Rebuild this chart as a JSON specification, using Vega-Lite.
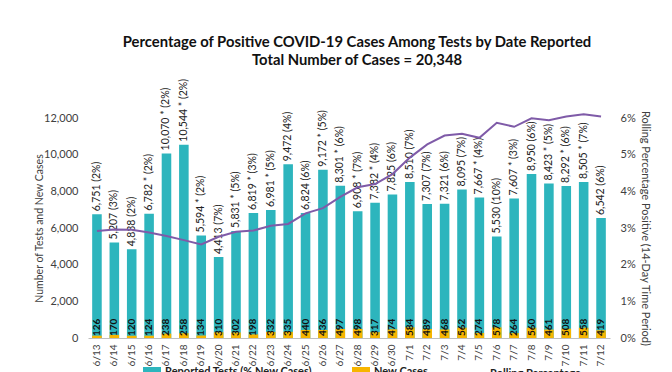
{
  "$schema": "https://vega.github.io/schema/vega-lite/v6.json",
  "width": 522,
  "height": 220,
  "autosize": "none",
  "padding": {"left": 88, "top": 118, "right": 62, "bottom": 34},
  "background": "white",
  "title": {
    "text": "Percentage of Positive COVID-19 Cases Among Tests by Date Reported",
    "subtitle": "Total Number of Cases = 20,348",
    "font": "Lato", "fontSize": 14.8, "fontWeight": "bold", "color": "#111111",
    "subtitleFont": "Lato", "subtitleFontSize": 14.8, "subtitleFontWeight": "bold", "subtitleColor": "#111111",
    "subtitlePadding": 3, "anchor": "middle", "offset": 11, "dx": 8
  },
  "config": {
    "view": {"stroke": null},
    "axis": {"labelFont": "Lato", "labelFontSize": 11, "labelColor": "#404040", "titleFont": "Lato", "titleFontSize": 11, "titleFontWeight": "normal", "titleColor": "#404040", "grid": false}
  },
  "data": {"values": [
    {"d":"6/13","tests":6751,"lbl":"6,751 (2%)","cases":126,"roll":0.0292},
    {"d":"6/14","tests":5207,"lbl":"5,207 (3%)","cases":170,"roll":0.0296},
    {"d":"6/15","tests":4838,"lbl":"4,838 (2%)","cases":120,"roll":0.0295},
    {"d":"6/16","tests":6782,"lbl":"6,782 * (2%)","cases":124,"roll":0.0288},
    {"d":"6/17","tests":10070,"lbl":"10,070 * (2%)","cases":238,"roll":0.0278},
    {"d":"6/18","tests":10544,"lbl":"10,544 * (2%)","cases":258,"roll":0.0267},
    {"d":"6/19","tests":5594,"lbl":"5,594 * (2%)","cases":134,"roll":0.0255},
    {"d":"6/20","tests":4413,"lbl":"4,413 (7%)","cases":310,"roll":0.0276},
    {"d":"6/21","tests":5831,"lbl":"5,831 * (5%)","cases":302,"roll":0.0290},
    {"d":"6/22","tests":6819,"lbl":"6,819 * (3%)","cases":198,"roll":0.0293},
    {"d":"6/23","tests":6981,"lbl":"6,981 * (5%)","cases":332,"roll":0.0306},
    {"d":"6/24","tests":9472,"lbl":"9,472 (4%)","cases":335,"roll":0.0311},
    {"d":"6/25","tests":6824,"lbl":"6,824 (6%)","cases":440,"roll":0.0340},
    {"d":"6/26","tests":9172,"lbl":"9,172 * (5%)","cases":436,"roll":0.0354},
    {"d":"6/27","tests":8301,"lbl":"8,301 * (6%)","cases":497,"roll":0.0385},
    {"d":"6/28","tests":6908,"lbl":"6,908 * (7%)","cases":498,"roll":0.0411},
    {"d":"6/29","tests":7382,"lbl":"7,382 * (4%)","cases":317,"roll":0.0420},
    {"d":"6/30","tests":7825,"lbl":"7,825 (6%)","cases":474,"roll":0.0447},
    {"d":"7/1","tests":8510,"lbl":"8,510 (7%)","cases":584,"roll":0.0492},
    {"d":"7/2","tests":7307,"lbl":"7,307 (7%)","cases":489,"roll":0.0528},
    {"d":"7/3","tests":7321,"lbl":"7,321 (6%)","cases":468,"roll":0.0552},
    {"d":"7/4","tests":8095,"lbl":"8,095 (7%)","cases":562,"roll":0.0557},
    {"d":"7/5","tests":7667,"lbl":"7,667 * (4%)","cases":274,"roll":0.0546},
    {"d":"7/6","tests":5530,"lbl":"5,530 (10%)","cases":578,"roll":0.0587},
    {"d":"7/7","tests":7607,"lbl":"7,607 * (3%)","cases":264,"roll":0.0576},
    {"d":"7/8","tests":8950,"lbl":"8,950 (6%)","cases":560,"roll":0.0599},
    {"d":"7/9","tests":8423,"lbl":"8,423 * (5%)","cases":461,"roll":0.0594},
    {"d":"7/10","tests":8292,"lbl":"8,292 * (6%)","cases":508,"roll":0.0604},
    {"d":"7/11","tests":8505,"lbl":"8,505 * (7%)","cases":558,"roll":0.0610},
    {"d":"7/12","tests":6542,"lbl":"6,542 (6%)","cases":419,"roll":0.0604}
  ]},
  "encoding": {
    "x": {"field": "d", "type": "ordinal", "sort": null, "title": null,
      "scale": {"paddingInner": 0.45, "paddingOuter": 0.24},
      "axis": {"labelAngle": 270, "labelAlign": "right", "labelBaseline": "middle", "labelFontSize": 10, "labelPadding": 6, "ticks": false, "domainColor": "#bfbfbf"}}
  },
  "layer": [
    {
      "layer": [
        {
          "mark": {"type": "bar"},
          "encoding": {
            "y": {"field": "tests", "type": "quantitative", "title": "Number of Tests and New Cases",
              "scale": {"domain": [0, 12000]},
              "axis": {"values": [0,2000,4000,6000,8000,10000,12000], "format": ",.0f", "domain": false, "ticks": false, "labelPadding": 10, "titlePadding": -1, "titleFontSize": 10.5}},
            "color": {"datum": "Reported Tests (% New Cases)", "type": "nominal",
              "scale": {"domain": ["Reported Tests (% New Cases)", "New Cases", "Rolling Percentage"], "range": ["#2DB5BD", "#F7B500", "#7F5BA8"]},
              "legend": {"orient": "none", "legendX": 55, "legendY": 245, "direction": "horizontal", "title": null,
                "labelFont": "Lato", "labelFontSize": 11, "labelFontWeight": "bold", "labelColor": "#222222",
                "symbolSize": 256, "symbolStrokeWidth": 0, "columnPadding": 36, "labelOffset": 4,
                "encode": {"symbols": {"update": {
                  "shape": {"signal": "datum.value === 'Rolling Percentage' ? 'M-1,0H1' : 'M-1,-0.5H1V0.5H-1Z'"},
                  "stroke": {"signal": "datum.value === 'Rolling Percentage' ? '#7F5BA8' : 'transparent'"},
                  "strokeWidth": {"value": 2}
                }}}}}
          }
        },
        {
          "mark": {"type": "bar"},
          "encoding": {
            "y": {"field": "cases", "type": "quantitative", "title": "Number of Tests and New Cases",
              "axis": {"values": [0,2000,4000,6000,8000,10000,12000], "format": ",.0f", "domain": false, "ticks": false, "labelPadding": 10, "titlePadding": -1, "titleFontSize": 10.5}},
            "color": {"datum": "New Cases", "type": "nominal"}
          }
        },
        {
          "mark": {"type": "text", "angle": 270, "align": "left", "baseline": "middle", "dx": 3, "font": "Lato", "fontSize": 10.5, "color": "#222222"},
          "encoding": {
            "y": {"field": "tests", "type": "quantitative", "title": "Number of Tests and New Cases",
              "axis": {"values": [0,2000,4000,6000,8000,10000,12000], "format": ",.0f", "domain": false, "ticks": false, "labelPadding": 10, "titlePadding": -1, "titleFontSize": 10.5}},
            "text": {"field": "lbl"}
          }
        },
        {
          "mark": {"type": "text", "angle": 270, "align": "left", "baseline": "middle", "dx": 2, "font": "Lato", "fontSize": 10, "fontWeight": "bold", "color": "#111111"},
          "encoding": {
            "y": {"datum": 0, "type": "quantitative",
              "axis": {"values": [0,2000,4000,6000,8000,10000,12000], "format": ",.0f", "domain": false, "ticks": false, "labelPadding": 10, "titlePadding": -1, "titleFontSize": 10.5}},
            "text": {"field": "cases", "format": ","}
          }
        }
      ]
    },
    {
      "mark": {"type": "line", "strokeWidth": 2},
      "encoding": {
        "y": {"field": "roll", "type": "quantitative", "title": "Rolling Percentage Positive (14-Day Time Period)",
          "scale": {"domain": [0, 0.06]},
          "axis": {"orient": "right", "format": ".0%", "values": [0,0.01,0.02,0.03,0.04,0.05,0.06], "domain": false, "ticks": false, "labelPadding": 10, "titlePadding": 4}},
        "color": {"datum": "Rolling Percentage", "type": "nominal"}
      }
    }
  ],
  "resolve": {"scale": {"y": "independent"}}
}
